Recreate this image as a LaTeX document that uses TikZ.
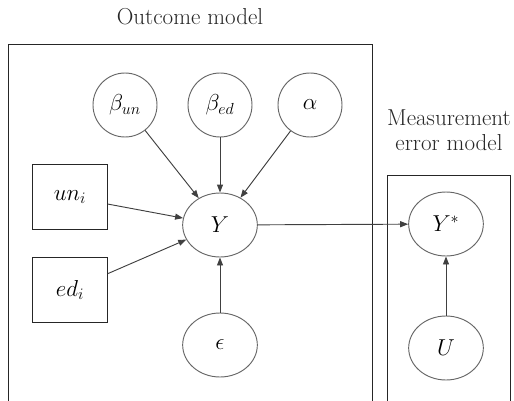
\documentclass[tikz,border=0pt]{standalone}
\usepackage{amsmath}
\usepackage{tikz}
\usetikzlibrary{arrows.meta,shapes.geometric}

\begin{document}
\begin{tikzpicture}[
  x=0.75pt, y=-0.75pt, font=\LARGE,
  frame/.style ={draw=black!85, line width=0.7pt},
  par/.style   ={ellipse, draw=black!60, line width=0.7pt, inner sep=0pt,
                 minimum width=48pt, minimum height=48pt},
  var/.style   ={par, minimum width=56pt},
  obs/.style   ={draw=black!85, line width=0.7pt, inner sep=0pt,
                 minimum width=56pt, minimum height=49pt},
  fl/.style    ={-{Triangle[length=6pt,width=4.5pt]}, draw=black!75,
                 line width=0.7pt},
  ttl/.style   ={font=\LARGE, text=black!85, align=center, inner sep=0pt}]

\useasboundingbox (0,0) rectangle (514,400);
\clip (0,0) rectangle (514,400);

% plates
\draw[frame] (8,420) -- (8,44) -- (372,44) -- (372,420);
\draw[frame] (387,420) -- (387,175) -- (510,175) -- (510,420);
\node[ttl] (tout) at (190,17) {Outcome model};
\node[ttl] (tmeas) at (449,130) {Measurement\\[-3pt] error model};

% outcome model
\node[par] (bun) at (125,105) {$\beta_{un}$};
\node[par] (bed) at (220,105) {$\beta_{ed}$};
\node[par] (alp) at (310,105) {$\alpha$};
\node[var] (Y)   at (220,225) {$Y$};
\node[var] (eps) at (220,345) {$\epsilon$};
\node[obs] (un)  at (70,197) {$un_i$};
\node[obs] (ed)  at (70,290) {$ed_i$};

% measurement error model
\node[var] (Ys) at (446,224) {$Y^{*}$};
\node[var] (U)  at (446,348) {$U$};

\foreach \a/\b in {bun/Y, bed/Y, alp/Y, un/Y, ed/Y, eps/Y, Y/Ys, U/Ys}
  \draw[fl] (\a) -- (\b);
\end{tikzpicture}
\end{document}
